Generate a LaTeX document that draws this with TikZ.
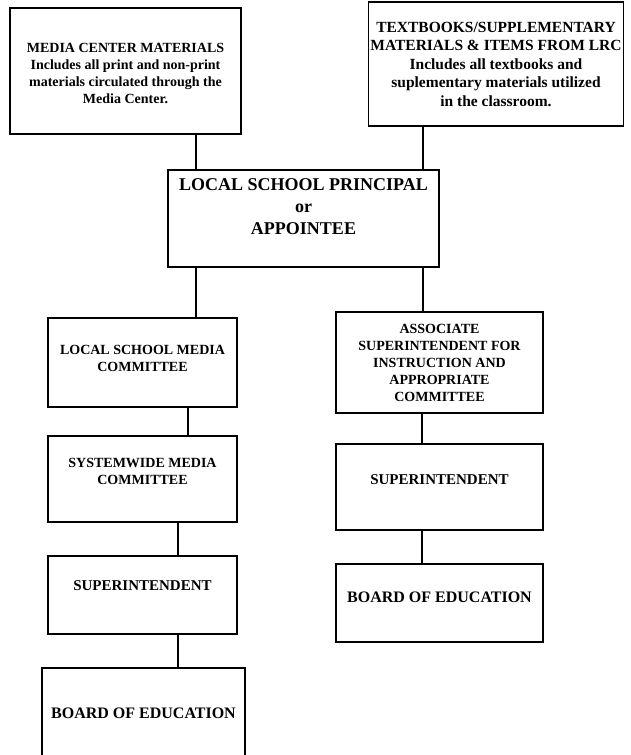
\documentclass[tikz,border=0pt]{standalone}
\usepackage{fontspec}
\setmainfont{Liberation Serif}
\usetikzlibrary{positioning}
\tikzset{
	box/.style={draw, line width=1.2pt, inner sep=0pt},
	txt/.style={align=center, inner sep=0pt, font=\bfseries\fontsize{14}{17}\selectfont},
	bigtxt/.style={align=center, inner sep=0pt, font=\bfseries\fontsize{18}{22}\selectfont},
	link/.style={line width=1.1pt}
}
\newcommand{\orgbox}[6]{
	% #1: name
	% #2: x
	% #3: y
	% #4: width
	% #5: height
	% #6: text shift
	\node[box, minimum width=#4pt, minimum height=#5pt] (#1) at (#2,#3) {};
	\coordinate (#1-t) at ([yshift=#6pt]#1.center);
}

\begin{document}
\begin{tikzpicture}[x=1pt,y=-1pt]

\useasboundingbox (0,0) rectangle (630,755);

% top boxes
\orgbox{media}{125.5}{71}{231}{126}{-2}
\node[txt] (mediatext) at (media-t) {MEDIA CENTER MATERIALS\\Includes all print and non-print\\materials circulated through the\\Media Center.};

\orgbox{books}{496}{64}{255}{124}{0}
\node[txt, font=\bfseries\fontsize{15.5}{18.5}\selectfont] (bookstext) at (books-t) {TEXTBOOKS/SUPPLEMENTARY\\MATERIALS \& ITEMS FROM LRC\\Includes all textbooks and\\suplementary materials utilized\\in the classroom.};

% principal
\orgbox{principal}{303.5}{218.5}{271}{97}{12}
\node[bigtxt] (principaltext) at (principal-t) {LOCAL SCHOOL PRINCIPAL\\or\\APPOINTEE};

% media side
\orgbox{lsm}{142.5}{362.5}{189}{89}{4.5}
\node[txt] (lsmtext) at (lsm-t) {LOCAL SCHOOL MEDIA\\COMMITTEE};

\orgbox{sys}{142.5}{479}{189}{86}{8}
\node[txt] (systext) at (sys-t) {SYSTEMWIDE MEDIA\\COMMITTEE};

\orgbox{supl}{142.5}{595}{189}{78}{9}
\node[txt, font=\bfseries\fontsize{15}{18}\selectfont] (supltext) at (supl-t) {SUPERINTENDENT};

\orgbox{boardl}{143.5}{719}{203}{102}{6}
\node[txt, font=\bfseries\fontsize{16}{19}\selectfont] (boardltext) at (boardl-t) {BOARD OF EDUCATION};

% textbook side
\orgbox{assoc}{439.5}{362.5}{207}{101}{0}
\node[txt] (assoctext) at (assoc-t) {ASSOCIATE\\SUPERINTENDENT FOR\\INSTRUCTION AND\\APPROPRIATE\\COMMITTEE};

\orgbox{supr}{439.5}{487}{207}{86}{7}
\node[txt, font=\bfseries\fontsize{15}{18}\selectfont] (suprtext) at (supr-t) {SUPERINTENDENT};

\orgbox{boardr}{439.5}{603}{207}{78}{6}
\node[txt, font=\bfseries\fontsize{16}{19}\selectfont] (boardrtext) at (boardr-t) {BOARD OF EDUCATION};

% connect lines
\coordinate (ca) at (196,0);
\coordinate (cb) at (423,0);
\coordinate (cc) at (188,0);
\coordinate (cd) at (178,0);
\coordinate (ce) at (422,0);

\draw[link] (ca |- media.south) -- (ca |- principal.north);
\draw[link] (cb |- books.south) -- (cb |- principal.north);
\draw[link] (ca |- principal.south) -- (ca |- lsm.north);
\draw[link] (cb |- principal.south) -- (cb |- assoc.north);
\draw[link] (cc |- lsm.south) -- (cc |- sys.north);
\draw[link] (cd |- sys.south) -- (cd |- supl.north);
\draw[link] (cd |- supl.south) -- (cd |- boardl.north);
\draw[link] (ce |- assoc.south) -- (ce |- supr.north);
\draw[link] (ce |- supr.south) -- (ce |- boardr.north);

\end{tikzpicture}
\end{document}
